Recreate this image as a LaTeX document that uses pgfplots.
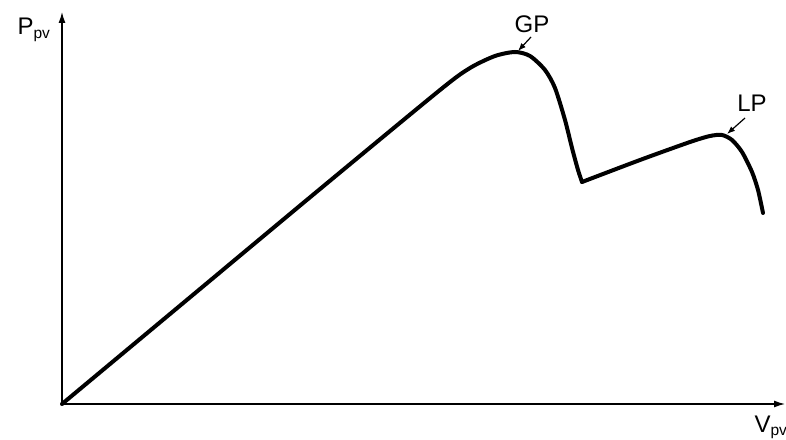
\documentclass[border=0pt]{standalone}
\usepackage{pgfplots}
\pgfplotsset{compat=1.18}
\usepackage{fontspec}
\setmainfont{Liberation Sans}
\usetikzlibrary{arrows.meta}

\begin{document}
\begin{tikzpicture}
\begin{axis}[
  scale only axis,
  width=723pt, height=392pt,
  xmin=0, xmax=723, ymin=0, ymax=392,
  axis lines=left,
  axis line style={line width=1.3pt, -{Latex[length=11pt,width=7pt]}},
  ticks=none,
  clip=false,
]
% rising branch up to the global peak and the fall into the notch
\addplot[line width=4pt, smooth, tension=0.45, line join=round, line cap=round]
  coordinates {
  (0,0) (126,105) (252,210) (378,314) (408,336) (433,348)
  (453,352) (468,348) (483,334) (493,316) (503,284) (510,256) (516,234) (520,222)
  };
% second branch through the local peak
\addplot[line width=4pt, smooth, tension=0.45, line join=round, line cap=round]
  coordinates {
  (520,222) (578,244) (628,262) (648,268) (660,269) (670,264) (680,252)
  (690,232) (696,214) (701,191)
  };

\node[anchor=base west, font=\fontsize{24}{28}\selectfont] at (axis cs:-48,369)
  {P\textsubscript{\fontsize{15.5}{18}\selectfont pv}};
\node[anchor=base west, font=\fontsize{24}{28}\selectfont] at (axis cs:689,-28)
  {V\textsubscript{\fontsize{15.5}{18}\selectfont pv}};

\node[anchor=base, font=\fontsize{24}{28}\selectfont] at (axis cs:470,371) {GP};
\draw[line width=1.2pt, -{Latex[length=8pt,width=6pt]}] (axis cs:469,367) -- (axis cs:456,353);
\node[anchor=base, font=\fontsize{24}{28}\selectfont] at (axis cs:690,292) {LP};
\draw[line width=1.2pt, -{Latex[length=8pt,width=6pt]}] (axis cs:683,286) -- (axis cs:665,270);
\end{axis}
\pgfresetboundingbox
\path (-62pt,-35pt) rectangle (724pt,404pt);
\end{tikzpicture}
\end{document}
